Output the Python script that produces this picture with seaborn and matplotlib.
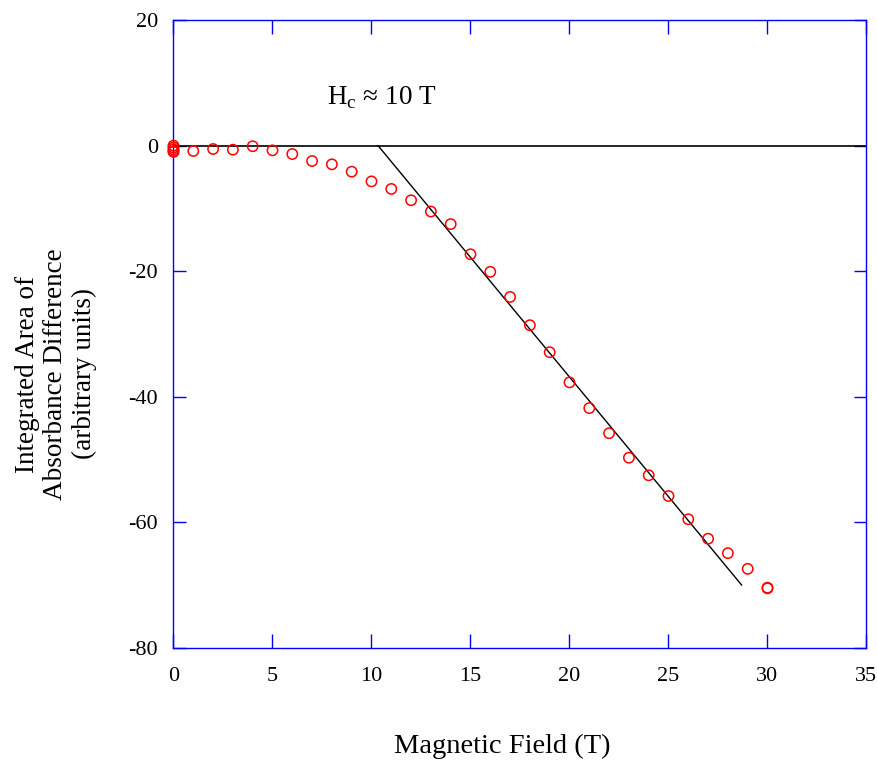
import matplotlib
matplotlib.use("Agg")
import matplotlib.pyplot as plt
import seaborn as sns
import pandas as pd

# measured points (field in T, integrated area in arbitrary units)
field = [0, 0, 0, 0, 0, 1, 2, 3, 4, 5, 6, 7, 8, 9, 10, 11, 12, 13, 14, 15,
         16, 17, 18, 19, 20, 21, 22, 23, 24, 25, 26, 27, 28, 29, 30, 30]
area = [0.0, -0.3, -0.6, -0.9, -1.0, -0.86, -0.54, -0.65, -0.1, -0.75, -1.34,
        -2.45, -2.98, -4.15, -5.7, -6.9, -8.7, -10.5, -12.5, -17.3, -20.1,
        -24.1, -28.6, -32.9, -37.7, -41.8, -45.8, -49.7, -52.5, -55.8, -59.5,
        -62.6, -64.9, -67.4, -70.4, -70.5]

# zero baseline and linear fit above Hc
base_x = [0, 35]
base_y = [0, 0]
fit_x = [10.33, 28.7]
fit_y = [0, -70]

x_ticks = [0, 5, 10, 15, 20, 25, 30, 35]
y_ticks = [20, 0, -20, -40, -60, -80]

df = pd.DataFrame({"field": field, "area": area})

sns.set_style("white")
plt.rcParams['font.family'] = ['Liberation Serif', 'DejaVu Serif']
plt.rcParams['mathtext.fontset'] = 'custom'
plt.rcParams['mathtext.rm'] = 'Liberation Serif'
plt.rcParams['axes.unicode_minus'] = False
plt.rcParams['text.color'] = 'black'
plt.rcParams['xtick.labelcolor'] = 'black'
plt.rcParams['ytick.labelcolor'] = 'black'

fig = plt.figure(figsize=(8.78, 7.61), dpi=100)
ax = fig.add_axes([0.1976, 0.1485, 0.7893, 0.8252])

sns.lineplot(x=base_x, y=base_y, color="black", linewidth=1.2, ax=ax)
sns.lineplot(x=fit_x, y=fit_y, color="black", linewidth=1.0, ax=ax)
sns.scatterplot(data=df, x="field", y="area", marker="o", s=55,
                facecolors="none", edgecolor="red", linewidth=1.1, ax=ax,
                zorder=3, clip_on=False)

ax.set_xlim(0, 35)
ax.set_ylim(-80, 20)
ax.set_xticks(x_ticks)
ax.set_yticks(y_ticks)
ax.tick_params(axis="x", direction="in", length=10, width=1, color="blue",
               top=True, bottom=True, labelsize=16, labelcolor="black", pad=14)
ax.tick_params(axis="y", direction="in", length=9, width=1, color="blue",
               left=True, right=True, labelsize=16, labelcolor="black", pad=11)
for sp in ax.spines.values():
    sp.set_color("blue")
    sp.set_linewidth(1.0)

ax.set_xlabel("")
ax.set_ylabel("")
fig.text(502 / 878, 1 - 746 / 761, "Magnetic Field (T)", fontsize=20.5,
         ha="center", va="center", color="black")
fig.text(56 / 878, 1 - 374 / 761,
         "Integrated Area of\nAbsorbance Difference\n(arbitrary units)",
         fontsize=19.5, rotation=90, ha="center", va="center",
         multialignment="center", linespacing=1.2, color="black")

ax.text(7.75, 7.6, r"H$_\mathrm{c}$ ≈ 10 T", fontsize=19.5, va="center",
        ha="left", color="black")

fig.savefig("out.png", dpi=100)
